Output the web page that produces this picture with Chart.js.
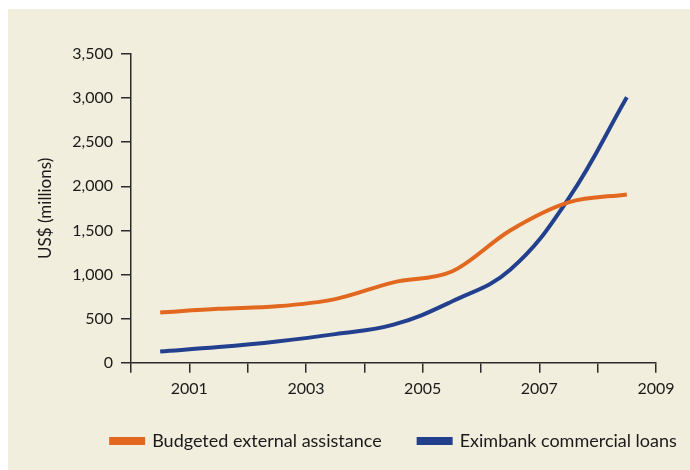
<!DOCTYPE html>
<html>
<head>
<meta charset="utf-8">
<script src="https://cdn.jsdelivr.net/npm/chart.js@4.4.1/dist/chart.umd.min.js"></script>
<style>
  html, body { margin: 0; padding: 0; background: #ffffff; }
  #wrap {
    position: absolute; left: 8px; top: 9px;
    width: 682px; height: 461px;
    background: #f2eedd;
  }
</style>
</head>
<body>
<div id="wrap"><canvas id="c" width="682" height="461"></canvas></div>
<script>
'use strict';

// mid-year points, 2000-2008
const years = [2000.5, 2001.5, 2002.5, 2003.5, 2004.5, 2005.5, 2006.5, 2007.5, 2008.5];
const budgeted = [570, 612, 640, 722, 912, 1035, 1500, 1818, 1908];
const eximbank = [128, 178, 242, 325, 432, 695, 1054, 1860, 3010];
const yTicks = [0, 500, 1000, 1500, 2000, 2500, 3000, 3500];
const xTickLabels = ['2001', '2003', '2005', '2007', '2009'];

const ORANGE = '#e2671f';
const BLUE = '#23408f';
const AXIS = '#2b2b2b';
const TEXT = '#1a1a1a';
const FONT = 'Lato, "Open Sans", sans-serif';

const pts = vals => vals.map((v, i) => ({ x: years[i], y: v }));

function lineSet(label, vals, color, mono) {
  const ds = {
    label,
    data: pts(vals),
    borderColor: color,
    backgroundColor: color,
    borderWidth: 4,
    pointRadius: 0,
    tension: 0.4,
    fill: false,
  };
  if (mono) ds.cubicInterpolationMode = 'monotone';
  return ds;
}

// legend sits right of centre and a bit higher in the original
const legendShift = {
  id: 'legendShift',
  afterLayout(chart) {
    const lg = chart.legend;
    if (!lg) return;
    lg.left += 62;
    lg.right += 62;
    lg.top -= 9;
    lg.bottom -= 9;
  },
};

new Chart(document.getElementById('c'), {
  type: 'line',
  data: {
    datasets: [
      lineSet('Budgeted external assistance', budgeted, ORANGE, true),
      lineSet('Eximbank commercial loans', eximbank, BLUE, false),
    ],
  },
  plugins: [legendShift],
  options: {
    responsive: false,
    animation: false,
    layout: { padding: { top: 45, right: 34, bottom: 1, left: 0 } },
    plugins: {
      tooltip: { enabled: false },
      legend: {
        position: 'bottom',
        align: 'center',
        labels: {
          boxWidth: 32,
          boxHeight: 4,
          padding: 37,
          color: TEXT,
          font: { family: FONT, size: 18 },
        },
      },
    },
    scales: {
      x: {
        type: 'linear',
        min: 2000,
        max: 2009,
        border: { display: true, color: AXIS, width: 1.5 },
        grid: { drawOnChartArea: false, drawTicks: true, tickLength: 10, color: AXIS, lineWidth: 1.5 },
        ticks: {
          stepSize: 1,
          autoSkip: false,
          maxRotation: 0,
          color: TEXT,
          font: { family: FONT, size: 16 },
          padding: 6,
          callback: v => xTickLabels.includes(String(v)) ? String(v) : '',
        },
      },
      y: {
        min: 0,
        max: 3500,
        border: { display: true, color: AXIS, width: 1.5 },
        grid: { drawOnChartArea: false, drawTicks: true, tickLength: 10, color: AXIS, lineWidth: 1.5 },
        afterBuildTicks: s => { s.ticks = yTicks.map(v => ({ value: v })); },
        afterFit: s => { s.width = 123; },
        ticks: {
          color: TEXT,
          font: { family: FONT, size: 16 },
          padding: 8,
          callback: v => v.toLocaleString('en-US'),
        },
        title: {
          display: true,
          text: 'US$ (millions)',
          color: TEXT,
          font: { family: FONT, size: 17 },
          padding: { top: 27, bottom: 0 },
        },
      },
    },
  },
});
</script>
</body>
</html>
